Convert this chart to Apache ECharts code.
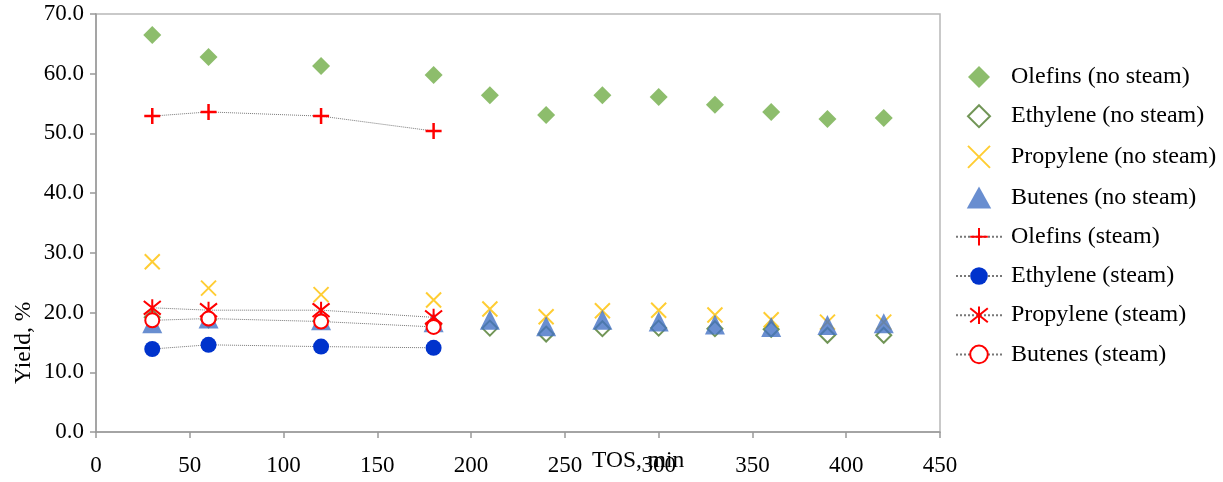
<!DOCTYPE html>
<html>
<head>
    <meta charset="utf-8">
    <title>Yield vs TOS</title>
    <script src="https://cdn.jsdelivr.net/npm/echarts@6/dist/echarts.min.js"></script>
</head>
<body style="margin:0">
    <div id="c" style="width:1223px;height:482px;"></div>
    <script>
        // TOS, min
        var tosNoSteam = [30, 60, 120, 180, 210, 240, 270, 300, 330, 360, 390, 420];
        var tosSteam = [30, 60, 120, 180];

        // no steam
        var olefinsNo = [66.5, 62.8, 61.3, 59.8, 56.4, 53.1, 56.4, 56.1, 54.8, 53.6, 52.4, 52.6];
        var ethyleneNo = [19.2, 18.8, 18.6, 18.0, 17.4, 16.4, 17.3, 17.4, 17.3, 17.2, 16.2, 16.2];
        var propyleneNo = [28.5, 24.1, 23.0, 22.1, 20.6, 19.3, 20.3, 20.4, 19.6, 18.8, 18.4, 18.4];
        var butenesNo = [18.2, 19.0, 18.7, 18.4, 18.8, 17.7, 18.8, 18.5, 18.0, 17.6, 17.9, 18.2];

        // steam
        var olefinsSt = [52.9, 53.6, 52.9, 50.4];
        var ethyleneSt = [13.9, 14.6, 14.3, 14.1];
        var propyleneSt = [20.8, 20.4, 20.4, 19.2];
        var butenesSt = [18.7, 19.0, 18.5, 17.6];

        function pairs(xs, ys) {
            return xs.map(function (x, i) { return [x, ys[i]]; });
        }

        var serif = 'Liberation Serif';
        var pathDiamond = 'path://M5,0L10,5L5,10L0,5Z';
        var pathTriangle = 'path://M5,0L10,9L0,9Z';
        var pathX = 'path://M0,0L10,10M10,0L0,10';
        var pathPlus = 'path://M5,0L5,10M0,5L10,5';
        var pathStar = 'path://M1,1L9,9M9,1L1,9M5,0L5,10';
        var dotted = { type: 'dotted', color: '#777', width: 1 };

        var myChart = echarts.init(document.getElementById('c'));
        var option = {
            animation: false,
            textStyle: { fontFamily: serif },
            grid: {
                left: 96, right: 283, top: 14, bottom: 50,
                show: true, borderColor: '#b8b8b8', borderWidth: 1.5
            },
            xAxis: {
                type: 'value', min: 0, max: 450, interval: 50,
                axisLine: { show: true, lineStyle: { color: '#999', width: 1.5 } },
                axisTick: { show: true, length: 6, lineStyle: { color: '#999', width: 1.5 } },
                axisLabel: { color: '#000', fontSize: 23, fontFamily: serif, margin: 22 },
                splitLine: { show: false }
            },
            yAxis: {
                type: 'value', min: 0, max: 70, interval: 10,
                axisLine: { show: true, lineStyle: { color: '#999', width: 1.5 } },
                axisTick: { show: true, length: 6, lineStyle: { color: '#999', width: 1.5 } },
                axisLabel: {
                    color: '#000', fontSize: 23, fontFamily: serif, margin: 12,
                    formatter: function (v) { return v.toFixed(1); }
                },
                splitLine: { show: false }
            },
            legend: {
                orient: 'vertical', left: 950, top: 60,
                itemWidth: 46, itemHeight: 22, itemGap: 15.2,
                textStyle: { fontSize: 24, fontFamily: serif, color: '#000', padding: [0, 0, 0, 4] }
            },
            graphic: [
                {
                    type: 'text', left: 592, top: 449,
                    style: { text: 'TOS, min', font: '23.5px "Liberation Serif"', fill: '#000' }
                },
                {
                    type: 'text', x: 12, y: 384, rotation: Math.PI / 2,
                    style: { text: 'Yield, %', font: '23.5px "Liberation Serif"', fill: '#000' }
                }
            ],
            series: [
                {
                    name: 'Olefins (no steam)', type: 'scatter', data: pairs(tosNoSteam, olefinsNo),
                    symbol: pathDiamond, symbolSize: 18, itemStyle: { color: '#70AD47' }
                },
                {
                    name: 'Ethylene (no steam)', type: 'scatter', data: pairs(tosNoSteam, ethyleneNo),
                    symbol: pathDiamond, symbolSize: 15,
                    itemStyle: { color: '#fff', borderColor: '#4E7A2C', borderWidth: 2 }
                },
                {
                    name: 'Propylene (no steam)', type: 'scatter', data: pairs(tosNoSteam, propyleneNo),
                    symbol: pathX, symbolSize: 15,
                    itemStyle: { color: 'none', borderColor: '#FFC000', borderWidth: 2 }
                },
                {
                    name: 'Butenes (no steam)', type: 'scatter', data: pairs(tosNoSteam, butenesNo),
                    symbol: pathTriangle, symbolSize: 20, itemStyle: { color: '#4472C4' }
                },
                {
                    name: 'Olefins (steam)', type: 'line', data: pairs(tosSteam, olefinsSt),
                    symbol: pathPlus, symbolSize: 16, showAllSymbol: true,
                    lineStyle: dotted,
                    itemStyle: { color: 'none', borderColor: '#FF0000', borderWidth: 2.5 }
                },
                {
                    name: 'Ethylene (steam)', type: 'line', data: pairs(tosSteam, ethyleneSt),
                    symbol: 'circle', symbolSize: 16,
                    lineStyle: dotted,
                    itemStyle: { color: '#0033CC', borderWidth: 0 }
                },
                {
                    name: 'Propylene (steam)', type: 'line', data: pairs(tosSteam, propyleneSt),
                    symbol: pathStar, symbolSize: 17,
                    lineStyle: dotted,
                    itemStyle: { color: 'none', borderColor: '#FF0000', borderWidth: 2 }
                },
                {
                    name: 'Butenes (steam)', type: 'line', data: pairs(tosSteam, butenesSt),
                    symbol: 'emptyCircle', symbolSize: 14,
                    lineStyle: dotted,
                    itemStyle: { color: '#FF0000', borderColor: '#FF0000', borderWidth: 3 }
                }
            ]
        };
        myChart.setOption(option);
    </script>
</body>
</html>
